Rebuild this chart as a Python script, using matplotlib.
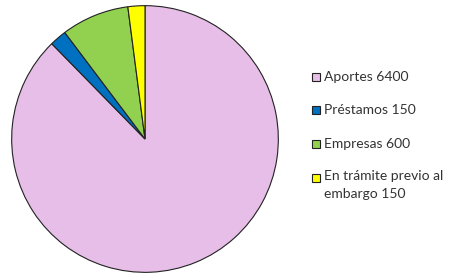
import matplotlib
matplotlib.use('Agg')
import matplotlib.pyplot as plt
from matplotlib.patches import Rectangle

labels = ['Aportes 6400', 'Préstamos 150', 'Empresas 600', 'En trámite previo al\nembargo 150']
values = [6400, 150, 600, 150]
colors = ['#E6BEE8', '#0070C0', '#92D050', '#FFFF00']

W, H = 452, 275
fig = plt.figure(figsize=(W / 100, H / 100), dpi=100)
ax = fig.add_axes([11 / W, (H - 139 - 134) / H, 268 / W, 268 / H])
wedges, _ = ax.pie(values, colors=colors, startangle=90, counterclock=False,
                   wedgeprops=dict(edgecolor='#222222', linewidth=0.8))
ax.set_xlim(-1.005, 1.005)
ax.set_ylim(-1.005, 1.005)
ax.set_aspect('equal')

# legend drawn by hand so the marker sits at the first line
row_y = [77, 110, 144, 178]
for lab, col, y in zip(labels, colors, row_y):
    fig.patches.append(Rectangle((312 / W, (H - y - 4) / H), 8 / W, 8 / H,
                                 transform=fig.transFigure, facecolor=col,
                                 edgecolor='#222222', linewidth=0.8))
    if '\n' in lab:
        fig.text(324 / W, (H - y + 8) / H, lab, ha='left', va='top',
                 family='Lato', fontsize=10, color='#333333', linespacing=1.55)
    else:
        fig.text(324 / W, (H - y) / H, lab, ha='left', va='center',
                 family='Lato', fontsize=10, color='#333333')

plt.savefig('out.png', dpi=100)
